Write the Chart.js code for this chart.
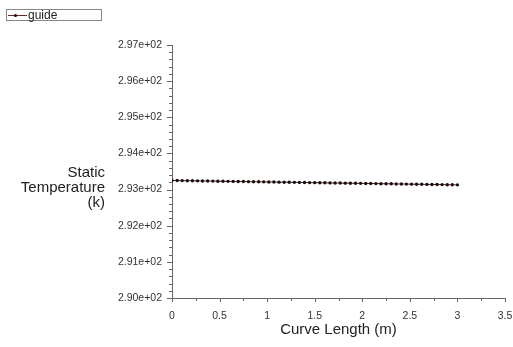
<!DOCTYPE html>
<html>
<head>
<meta charset="utf-8">
<script src="https://cdn.jsdelivr.net/npm/chart.js@4.4.0/dist/chart.umd.min.js"></script>
<style>
  html, body { margin: 0; padding: 0; background: #fff; }
  canvas { display: block; }
</style>
</head>
<body>
<canvas id="chart" width="513" height="347"></canvas>
<script>
// curve length positions (m)
const curveLength = [
  0, 0.054, 0.107, 0.161, 0.214, 0.268, 0.321, 0.375, 0.429, 0.482,
  0.536, 0.589, 0.643, 0.696, 0.75, 0.804, 0.857, 0.911, 0.964, 1.018,
  1.071, 1.125, 1.179, 1.232, 1.286, 1.339, 1.393, 1.446, 1.5, 1.554,
  1.607, 1.661, 1.714, 1.768, 1.821, 1.875, 1.929, 1.982, 2.036, 2.089,
  2.143, 2.196, 2.25, 2.304, 2.357, 2.411, 2.464, 2.518, 2.571, 2.625,
  2.679, 2.732, 2.786, 2.839, 2.893, 2.946, 3.0
];

// static temperature along the guide (K)
const staticTemp = [
  293.252, 293.250, 293.248, 293.246, 293.244, 293.241, 293.239, 293.237, 293.235, 293.232,
  293.230, 293.228, 293.226, 293.224, 293.222, 293.219, 293.217, 293.215, 293.213, 293.211,
  293.209, 293.206, 293.204, 293.202, 293.200, 293.198, 293.196, 293.193, 293.191, 293.189,
  293.187, 293.185, 293.183, 293.180, 293.178, 293.176, 293.174, 293.172, 293.170, 293.167,
  293.165, 293.163, 293.161, 293.159, 293.156, 293.154, 293.152, 293.150, 293.148, 293.146,
  293.143, 293.141, 293.139, 293.137, 293.135, 293.132, 293.130
];

const seriesName = 'guide';
const xTitle = 'Curve Length (m)';
const yTitleLines = ['Static', 'Temperature', '(k)'];

const FONT = "'Liberation Sans', Arial, sans-serif";
const AXIS = '#666';

function expLabel(v) {
  return Number(v).toExponential(2).replace(/e([+-])(\d)$/, 'e$10$2');
}

// minor ticks, titles and the boxed legend
const decorations = {
  id: 'decorations',
  afterDraw(chart) {
    const { ctx, chartArea, scales } = chart;
    const xs = scales.x, ys = scales.y;
    ctx.save();
    ctx.strokeStyle = AXIS;
    ctx.lineWidth = 1;

    // y ticks (every 0.2, major every 1)
    for (let i = 0; i <= 35; i++) {
      const v = 290 + i * 0.2;
      const y = Math.round(ys.getPixelForValue(v)) + 0.5;
      const len = i % 5 === 0 ? 5 : 3;
      ctx.beginPath();
      ctx.moveTo(chartArea.left, y);
      ctx.lineTo(chartArea.left - len, y);
      ctx.stroke();
    }
    // x ticks (every 0.25, major every 0.5)
    for (let i = 0; i <= 14; i++) {
      const v = i * 0.25;
      const x = Math.round(xs.getPixelForValue(v)) + 0.5;
      const len = i % 2 === 0 ? 4 : 3;
      ctx.beginPath();
      ctx.moveTo(x, chartArea.bottom);
      ctx.lineTo(x, chartArea.bottom + len);
      ctx.stroke();
    }

    // axis titles
    ctx.fillStyle = '#222';
    ctx.font = '15px ' + FONT;
    ctx.textAlign = 'center';
    ctx.textBaseline = 'middle';
    ctx.fillText(xTitle, (chartArea.left + chartArea.right) / 2, 330);

    ctx.textAlign = 'right';
    yTitleLines.forEach((t, i) => ctx.fillText(t, 105, 173 + i * 15));

    // legend box
    ctx.strokeStyle = '#888';
    ctx.strokeRect(6.5, 9.5, 95, 11);
    ctx.strokeStyle = '#8b1a1a';
    ctx.beginPath();
    ctx.moveTo(8, 15.5);
    ctx.lineTo(27, 15.5);
    ctx.stroke();
    ctx.fillStyle = '#111';
    ctx.beginPath();
    ctx.arc(15.5, 15.5, 1.6, 0, Math.PI * 2);
    ctx.fill();
    ctx.fillStyle = '#222';
    ctx.font = '12px ' + FONT;
    ctx.textAlign = 'left';
    ctx.fillText(seriesName, 28, 15.5);

    ctx.restore();
  }
};

new Chart(document.getElementById('chart'), {
  type: 'line',
  data: {
    datasets: [{
      label: seriesName,
      data: curveLength.map((x, i) => ({ x, y: staticTemp[i] })),
      borderColor: '#8b1a1a',
      borderWidth: 1,
      pointRadius: 1.7,
      pointBackgroundColor: '#111',
      pointBorderWidth: 0,
      tension: 0,
    }],
  },
  options: {
    responsive: false,
    animation: false,
    layout: { padding: { left: 0, right: 8, top: 45, bottom: 0 } },
    scales: {
      x: {
        type: 'linear',
        min: 0,
        max: 3.5,
        grid: { display: false, drawTicks: false },
        border: { display: true, color: AXIS, width: 1 },
        ticks: {
          stepSize: 0.5,
          padding: 12,
          color: '#333',
          font: { size: 10.5, family: FONT },
          maxRotation: 0,
          callback: (v) => String(Number(v.toFixed(2))),
        },
        afterFit(scale) {
          scale.height = 49;
          scale.paddingRight = 0;
          scale.paddingLeft = 0;
        },
      },
      y: {
        min: 290,
        max: 297,
        grid: { display: false, drawTicks: false },
        border: { display: true, color: AXIS, width: 1 },
        ticks: {
          stepSize: 1,
          padding: 10,
          color: '#333',
          font: { size: 10.5, family: FONT },
          callback: (v) => expLabel(v),
        },
        afterFit(scale) {
          scale.width = 172;
          scale.paddingTop = 0;
          scale.paddingBottom = 0;
        },
      },
    },
    plugins: {
      legend: { display: false },
      tooltip: { enabled: false },
    },
  },
  plugins: [decorations],
});
</script>
</body>
</html>
